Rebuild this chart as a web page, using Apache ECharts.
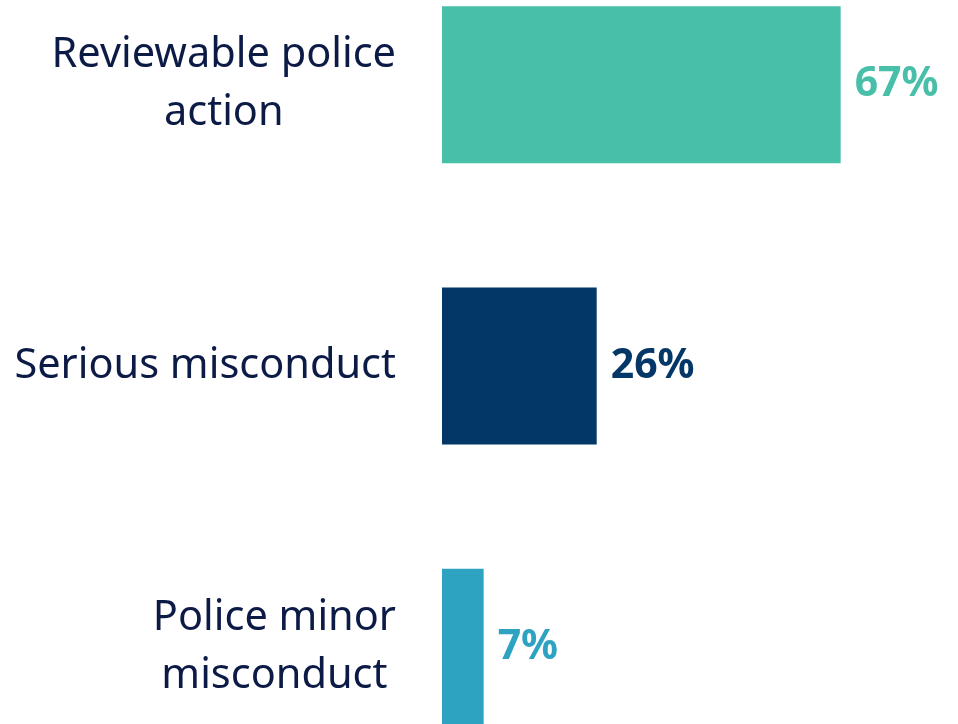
<!DOCTYPE html>
<html>
<head>
<meta charset="utf-8">
<style>html,body{margin:0;padding:0;background:#fff;}#c{width:958px;height:724px;}</style>
<script src="https://cdn.jsdelivr.net/npm/echarts@6/dist/echarts.min.js"></script>
</head>
<body>
<div id="c"></div>
<script>
const categories = ['Reviewable police\naction', 'Serious misconduct', 'Police minor\nmisconduct'];
const values = [67, 26, 7];
const barColors = ['#48BFA9', '#033767', '#2EA2C1'];

const chart = echarts.init(document.getElementById('c'), null, {renderer: 'canvas'});
chart.setOption({
  animation: false,
  backgroundColor: '#ffffff',
  grid: {left: 442, right: 40, top: -56, bottom: -64, containLabel: false, outerBoundsMode: 'none'},
  xAxis: {type: 'value', min: 0, max: 80, show: false},
  yAxis: {
    type: 'category', inverse: true, data: categories,
    axisLine: {show: false}, axisTick: {show: false}, splitLine: {show: false},
    axisLabel: {
      margin: 46,
      formatter: function (v) { return v.split('\n').map(s => '{c|' + s + '}').join('\n'); },
      rich: {c: {align: 'center', fontFamily: 'Noto Sans', fontSize: 41.5, color: '#0c1a46', lineHeight: 58}}
    }
  },
  series: [{
    type: 'bar', barWidth: 157,
    data: values.map((v, i) => ({value: v, itemStyle: {color: barColors[i]}, label: {color: barColors[i]}})),
    label: {show: true, position: 'right', distance: 14, formatter: '{c}%', fontFamily: 'Noto Sans', fontWeight: 'bold', fontSize: 41}
  }]
});
</script>
</body>
</html>
